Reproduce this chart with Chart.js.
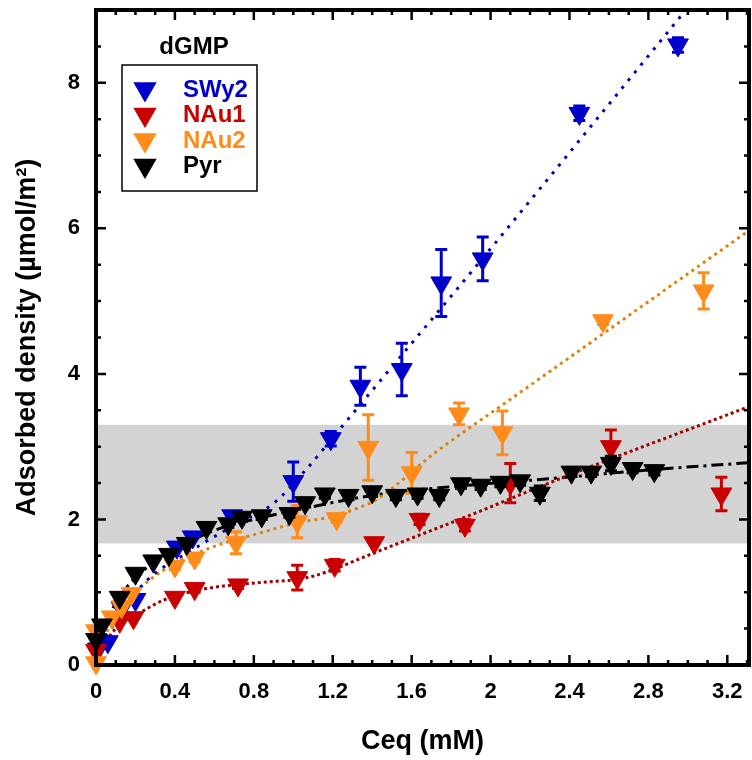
<!DOCTYPE html>
<html>
<head>
<meta charset="utf-8">
<script src="https://cdn.jsdelivr.net/npm/chart.js@4.4.0/dist/chart.umd.min.js"></script>
<style>
  body { margin: 0; background: #fff; overflow: hidden; }
  canvas { display: block; }
</style>
</head>
<body>
<canvas id="chart" width="752" height="760"></canvas>
<script>
const FONT = "'Liberation Sans', Arial, sans-serif"

const seriesNames = ['SWy2', 'NAu1', 'NAu2', 'Pyr']
const seriesColors = ['#0000cc', '#c80000', '#ff8c1a', '#000000']
const fitColors = ['#0000b4', '#a00000', '#d9840f', '#000000']

// measured points (Ceq in mM, density in umol/m2, +/- error)
const ceqSWy2 = [0.01, 0.06, 0.13, 0.2, 0.41, 0.49, 0.69, 1.0, 1.19, 1.34, 1.55, 1.75, 1.96, 2.45, 2.95]
const densSWy2 = [0.22, 0.32, 0.78, 0.9, 1.62, 1.76, 2.05, 2.52, 3.11, 3.83, 4.06, 5.25, 5.58, 7.58, 8.52]
const errSWy2 = [0, 0, 0, 0, 0, 0, 0.05, 0.27, 0.1, 0.26, 0.36, 0.46, 0.3, 0.1, 0.1]

const ceqNAu1 = [0.0, 0.12, 0.19, 0.4, 0.5, 0.72, 1.02, 1.21, 1.41, 1.64, 1.87, 2.1, 2.61, 3.17]
const densNAu1 = [0.2, 0.6, 0.65, 0.93, 1.05, 1.1, 1.2, 1.37, 1.68, 2.0, 1.92, 2.5, 3.0, 2.35]
const errNAu1 = [0, 0, 0, 0, 0.05, 0.05, 0.17, 0.08, 0, 0.07, 0.08, 0.27, 0.23, 0.23]

const ceqNAu2 = [0.0, 0.0, 0.08, 0.13, 0.18, 0.4, 0.5, 0.71, 1.02, 1.22, 1.38, 1.6, 1.84, 2.06, 2.57, 3.08]
const densNAu2 = [0.03, 0.47, 0.66, 0.8, 0.98, 1.36, 1.47, 1.68, 1.97, 2.01, 2.99, 2.64, 3.45, 3.19, 4.73, 5.14]
const errNAu2 = [0, 0, 0, 0, 0, 0.05, 0.05, 0.15, 0.22, 0.05, 0.45, 0.28, 0.15, 0.3, 0.05, 0.25]

const ceqPyr = [0.0, 0.03, 0.12, 0.2, 0.29, 0.37, 0.46, 0.56, 0.67, 0.74, 0.84, 0.98, 1.06, 1.16, 1.28, 1.4, 1.52, 1.63, 1.74, 1.85, 1.95, 2.05, 2.15, 2.25, 2.41, 2.51, 2.61, 2.72, 2.83]
const densPyr = [0.35, 0.55, 0.93, 1.26, 1.43, 1.52, 1.67, 1.89, 1.94, 2.03, 2.05, 2.08, 2.23, 2.35, 2.33, 2.38, 2.33, 2.35, 2.33, 2.49, 2.47, 2.51, 2.53, 2.36, 2.65, 2.65, 2.77, 2.7, 2.67]
const errPyr = [0, 0, 0, 0, 0, 0, 0, 0, 0.05, 0.05, 0.05, 0.05, 0.06, 0.06, 0.06, 0.06, 0.06, 0.06, 0.06, 0.06, 0.06, 0.06, 0.06, 0.1, 0.06, 0.06, 0.1, 0.06, 0.06]

// fitted curves
const fitSWy2X = [0, 0.1, 0.25, 0.5, 0.7, 0.9, 1.05, 1.3, 2.0, 2.99]
const fitSWy2Y = [0.15, 0.6, 1.14, 1.6, 1.92, 2.22, 2.64, 3.45, 5.72, 9.0]
const fitNAu1X = [0, 0.1, 0.2, 0.35, 0.56, 0.86, 1.0, 1.1, 1.2, 1.4, 1.87, 2.37, 3.31]
const fitNAu1Y = [0.12, 0.5, 0.68, 0.9, 1.05, 1.14, 1.17, 1.22, 1.31, 1.53, 2.03, 2.58, 3.55]
const fitNAu2X = [0, 0.1, 0.2, 0.34, 0.57, 0.84, 1.03, 1.18, 1.32, 1.42, 1.72, 2.09, 3.31]
const fitNAu2Y = [0.1, 0.7, 1.0, 1.3, 1.6, 1.82, 1.96, 2.03, 2.15, 2.27, 2.92, 3.63, 5.97]
const fitPyrX = [0, 0.1, 0.2, 0.4, 0.6, 0.8, 1.0, 1.4, 1.8, 2.3, 2.8, 3.31]
const fitPyrY = [0.25, 0.85, 1.2, 1.58, 1.85, 2.0, 2.12, 2.33, 2.45, 2.56, 2.68, 2.78]

const xTicks = [0, 0.4, 0.8, 1.2, 1.6, 2, 2.4, 2.8, 3.2]
const yTicks = [0, 2, 4, 6, 8]
const bandRange = [1.67, 3.3]

function pts(xs, ys) {
    return xs.map((x, i) => ({ x: x, y: ys[i] }))
}

const measured = [
    [ceqSWy2, densSWy2, errSWy2],
    [ceqNAu1, densNAu1, errNAu1],
    [ceqNAu2, densNAu2, errNAu2],
    [ceqPyr, densPyr, errPyr]
]
const fits = [
    [fitSWy2X, fitSWy2Y, [3, 7]],
    [fitNAu1X, fitNAu1Y, [3, 3]],
    [fitNAu2X, fitNAu2Y, [3, 4]],
    [fitPyrX, fitPyrY, [12, 5, 3, 5]]
]
const markerOrder = [4, 3, 2, 1]

const datasets = []
fits.forEach(([xs, ys, dash], i) => {
    datasets.push({
        label: seriesNames[i] + ' fit',
        data: pts(xs, ys),
        showLine: true,
        pointRadius: 0,
        borderColor: fitColors[i],
        borderWidth: 3,
        borderDash: dash,
        cubicInterpolationMode: 'monotone',
        order: 10
    })
})
measured.forEach(([xs, ys, errs], i) => {
    datasets.push({
        label: seriesNames[i],
        data: pts(xs, ys),
        errors: errs,
        showLine: false,
        pointStyle: 'triangle',
        rotation: 180,
        pointRadius: 12,
        pointBorderWidth: 1,
        backgroundColor: seriesColors[i],
        borderColor: seriesColors[i],
        clip: false,
        order: markerOrder[i]
    })
})

const errorBars = {
    id: 'errorBars',
    beforeDatasetDraw(chart, args) {
        const ds = chart.data.datasets[args.index]
        if (!ds.errors) return
        const { ctx, scales: { x, y } } = chart
        ctx.save()
        ctx.strokeStyle = ds.borderColor
        ctx.lineWidth = 3
        ds.data.forEach((p, i) => {
            const e = ds.errors[i]
            if (!e) return
            const px = x.getPixelForValue(p.x)
            const top = y.getPixelForValue(p.y + e)
            const bot = y.getPixelForValue(p.y - e)
            ctx.beginPath()
            ctx.moveTo(px, top); ctx.lineTo(px, bot)
            ctx.moveTo(px - 6, top); ctx.lineTo(px + 6, top)
            ctx.moveTo(px - 6, bot); ctx.lineTo(px + 6, bot)
            ctx.stroke()
        })
        ctx.restore()
    }
}

const band = {
    id: 'band',
    beforeDatasetsDraw(chart) {
        const { ctx, chartArea: a, scales: { y } } = chart
        const top = y.getPixelForValue(bandRange[1])
        const bot = y.getPixelForValue(bandRange[0])
        ctx.save()
        ctx.fillStyle = '#d3d3d3'
        ctx.fillRect(a.left, top, a.right - a.left, bot - top)
        ctx.restore()
    }
}

// box around the plot with inward ticks on all four sides
const frame = {
    id: 'frame',
    afterDatasetsDraw(chart) {
        const { ctx, chartArea: a, scales: { x, y } } = chart
        ctx.save()
        ctx.strokeStyle = '#000'
        ctx.lineWidth = 2.5
        ctx.beginPath()
        for (let i = 0; i <= 33; i++) {
            const v = i / 10
            const px = x.getPixelForValue(v)
            const len = xTicks.some(t => Math.abs(t - v) < 1e-6) ? 10 : 5
            ctx.moveTo(px, a.bottom); ctx.lineTo(px, a.bottom - len)
            ctx.moveTo(px, a.top); ctx.lineTo(px, a.top + len)
        }
        for (let i = 0; i <= 18; i++) {
            const v = i / 2
            const py = y.getPixelForValue(v)
            const len = yTicks.includes(v) ? 10 : 5
            ctx.moveTo(a.left, py); ctx.lineTo(a.left + len, py)
            ctx.moveTo(a.right, py); ctx.lineTo(a.right - len, py)
        }
        ctx.stroke()
        ctx.lineWidth = 4
        ctx.strokeRect(a.left, a.top, a.right - a.left, a.bottom - a.top)
        ctx.restore()
    }
}

const legendBox = {
    id: 'legendBox',
    afterDraw(chart) {
        const ctx = chart.ctx
        ctx.save()
        ctx.font = 'bold 24px ' + FONT
        ctx.textBaseline = 'middle'
        ctx.textAlign = 'center'
        ctx.fillStyle = '#000'
        ctx.fillText('dGMP', 194, 47)
        ctx.lineWidth = 1.5
        ctx.strokeStyle = '#000'
        ctx.strokeRect(122, 65, 135, 126)
        ctx.textAlign = 'left'
        seriesNames.forEach((name, i) => {
            const yy = 89 + i * 25.5
            ctx.fillStyle = seriesColors[i]
            ctx.strokeStyle = seriesColors[i]
            Chart.helpers.drawPoint(ctx, {
                pointStyle: 'triangle', rotation: 180, radius: 12, borderWidth: 1
            }, 145, yy)
            ctx.fillText(name, 183, yy + 1)
        })
        ctx.restore()
    }
}

Chart.defaults.font.family = FONT
Chart.defaults.color = '#000'

function noScalePadding(s) {
    s.paddingTop = 0
    s.paddingBottom = 0
    s.paddingLeft = 0
    s.paddingRight = 0
}

new Chart(document.getElementById('chart'), {
    type: 'scatter',
    data: { datasets: datasets },
    options: {
        responsive: false,
        animation: false,
        layout: { autoPadding: false, padding: { top: 10, right: 3, left: 0, bottom: 0 } },
        plugins: {
            legend: { display: false },
            tooltip: { enabled: false }
        },
        scales: {
            x: {
                type: 'linear',
                min: 0,
                max: 3.31,
                afterBuildTicks: s => { s.ticks = xTicks.map(v => ({ value: v })) },
                afterFit: s => { s.height = 95; noScalePadding(s) },
                ticks: {
                    padding: 14,
                    font: { size: 22, weight: 'bold' },
                    callback: v => String(v)
                },
                grid: { display: false, drawTicks: false },
                border: { display: false },
                title: {
                    display: true,
                    text: 'Ceq (mM)',
                    font: { size: 27, weight: 'bold' },
                    padding: { top: 0, bottom: 2 }
                }
            },
            y: {
                type: 'linear',
                min: 0,
                max: 9,
                afterBuildTicks: s => { s.ticks = yTicks.map(v => ({ value: v })) },
                afterFit: s => { s.width = 96; noScalePadding(s) },
                ticks: {
                    padding: 16,
                    font: { size: 22, weight: 'bold' },
                    callback: v => String(v)
                },
                grid: { display: false, drawTicks: false },
                border: { display: false },
                title: {
                    display: true,
                    text: 'Adsorbed density (µmol/m²)',
                    font: { size: 27, weight: 'bold' },
                    padding: { top: 11, bottom: 0 }
                }
            }
        }
    },
    plugins: [band, errorBars, frame, legendBox]
})
</script>
</body>
</html>
